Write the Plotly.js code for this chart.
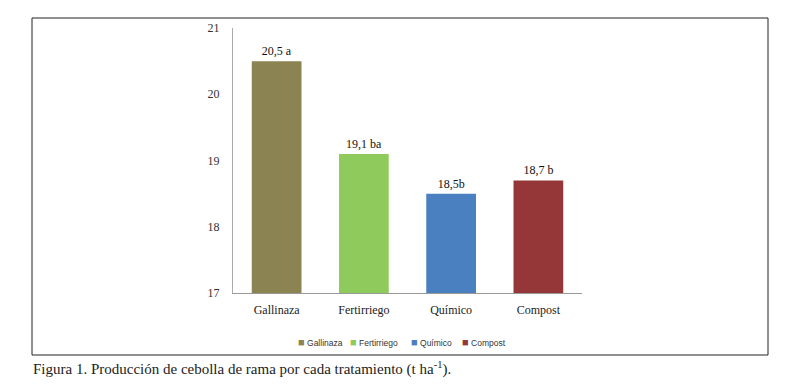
<!DOCTYPE html>
<html><head><meta charset="utf-8">
<script src="https://cdn.plot.ly/plotly-3.0.1.min.js"></script>
<style>html,body{margin:0;padding:0;background:#fff;}#c{width:803px;height:390px;}</style>
</head><body><div id="c"></div>
<script>
const categories = ["Gallinaza", "Fertirriego", "Químico", "Compost"];
const values = [20.5, 19.1, 18.5, 18.7];
const labels = ["20,5 a", "19,1 ba", "18,5b", "18,7 b"];
const colors = ["#8B8352", "#8FCB5C", "#4A7FC0", "#953739"];
const caption = "Figura 1. Producción de cebolla de rama por cada tratamiento (t ha<sup>-1</sup>).";

const serif = "Liberation Serif, Times New Roman, serif";
const traces = categories.map((c, i) => ({
  type: "bar",
  name: c,
  x: [c],
  y: [values[i]],
  text: [labels[i]],
  textposition: "outside",
  cliponaxis: false,
  textfont: {family: serif, size: 12, color: "#111"},
  marker: {color: colors[i]},
  width: 0.57,
  hoverinfo: "none",
  showlegend: false
}));

// plot area in px: x 233..582, y 28..293
const L = 233, R = 582, T = 28, B = 293;
const px = v => (v - L) / (R - L);
const py = v => (B - v) / (B - T);

// legend entries (built from the category names and colours)
const legendX = [296, 348, 409, 460];
const legendAnn = categories.map((c, i) => ({
  xref: "paper", yref: "paper", x: px(legendX[i]), y: py(342), xanchor: "left", yanchor: "middle",
  showarrow: false,
  text: `<span style="color:${colors[i]};font-size:11px">■</span> ${c}`,
  font: {family: "Liberation Sans, Arial, sans-serif", size: 8.5, color: "#333"}
}));

const layout = {
  width: 803, height: 390,
  margin: {l: L, r: 803 - R, t: T, b: 390 - B, pad: 0},
  paper_bgcolor: "#fff", plot_bgcolor: "#fff",
  barmode: "overlay",
  showlegend: false,
  xaxis: {type: "category", categoryorder: "array", categoryarray: categories,
    showline: true, linecolor: "#999", linewidth: 1, ticks: "", showgrid: false,
    tickfont: {family: serif, size: 12, color: "#222"}, ticklabelstandoff: 6, zeroline: false},
  yaxis: {range: [17, 21], dtick: 1, showline: true, linecolor: "#aaa", linewidth: 1, ticks: "",
    showgrid: false, zeroline: false, tickfont: {family: serif, size: 12, color: "#333"},
    ticklabelstandoff: 10},
  shapes: [{type: "rect", xref: "paper", yref: "paper", x0: px(32), x1: px(768), y0: py(355), y1: py(18),
    line: {color: "#222", width: 1}, fillcolor: "rgba(0,0,0,0)"}],
  annotations: legendAnn.concat([{xref: "paper", yref: "paper", x: px(31), y: py(368), xanchor: "left", yanchor: "middle",
    showarrow: false, text: caption, font: {family: serif, size: 15, color: "#222"}}])
};
Plotly.newPlot("c", traces, layout, {staticPlot: true});
</script></body></html>
